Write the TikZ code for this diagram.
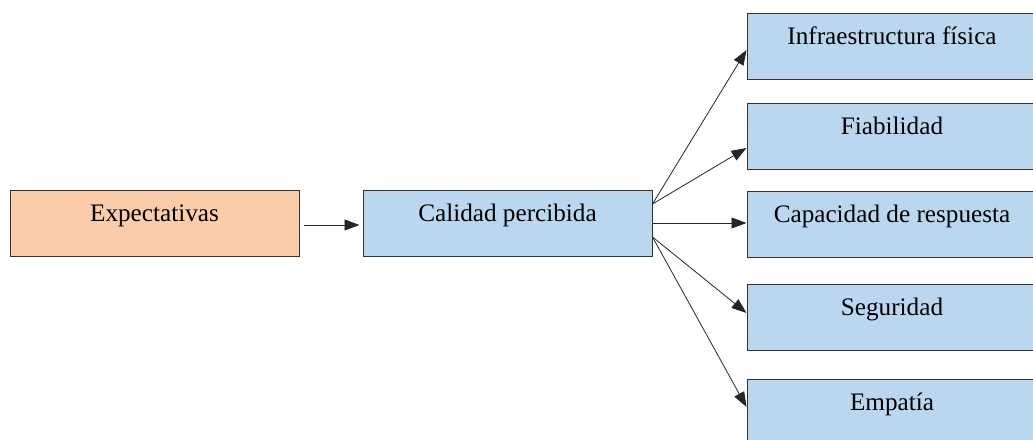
\documentclass[tikz,border=0pt]{standalone}
\usepackage{fontspec}
\setmainfont{Liberation Serif}
\usetikzlibrary{arrows.meta}
\definecolor{naranja}{RGB}{250,204,170}
\definecolor{celeste}{RGB}{187,214,239}
\tikzset{
	caja/.style={draw=black!80, line width=0.5pt, minimum width=144.5pt, inner xsep=0pt, inner ysep=0pt,
		text height=15.7pt, text depth=17.3pt, font=\fontsize{12.6}{14}\selectfont},
	flecha/.style={-{Triangle[length=7.5pt,width=5.5pt]}, line width=0.4pt, draw=black!85}
}
\begin{document}
\begin{tikzpicture}[x=0.5pt,y=-0.5pt]
		\useasboundingbox (0,0) rectangle (1033,439);
		% cajas
		\node[caja, fill=naranja] (exp) at (154.5,223) {Expectativas};
		\node[caja, fill=celeste] (cal) at (507.5,223) {Calidad percibida};
		\node[caja, fill=celeste, minimum width=152pt] (inf) at (899,46) {\hspace*{-7pt}Infraestructura física};
		\node[caja, fill=celeste, minimum width=152pt] (fia) at (899,136) {\hspace*{-7pt}Fiabilidad};
		\node[caja, fill=celeste, minimum width=152pt] (cap) at (899,224.5) {\hspace*{-7pt}Capacidad de respuesta};
		\node[caja, fill=celeste, minimum width=152pt] (seg) at (899,317) {\hspace*{-7pt}Seguridad};
		\node[caja, fill=celeste, minimum width=152pt] (emp) at (899,412) {\hspace*{-7pt}Empatía};
		% flechas
		\draw[flecha, shorten <=2pt, shorten >=1.5pt] ([yshift=-1pt]exp.east) -- ([yshift=-1pt]cal.west);
		\draw[flecha] ([yshift=9.5pt]cal.east) -- ([yshift=-2pt]inf.west);
		\draw[flecha] ([yshift=9.5pt]cal.east) -- ([yshift=-6pt]fia.west);
		\draw[flecha] (cal.east) -- (cal.east -| cap.west);
		\draw[flecha] ([yshift=-7pt]cal.east) -- ([yshift=2pt]seg.west);
		\draw[flecha] ([yshift=-7pt]cal.east) -- ([yshift=2.5pt]emp.west);
	\end{tikzpicture}
\end{document}
